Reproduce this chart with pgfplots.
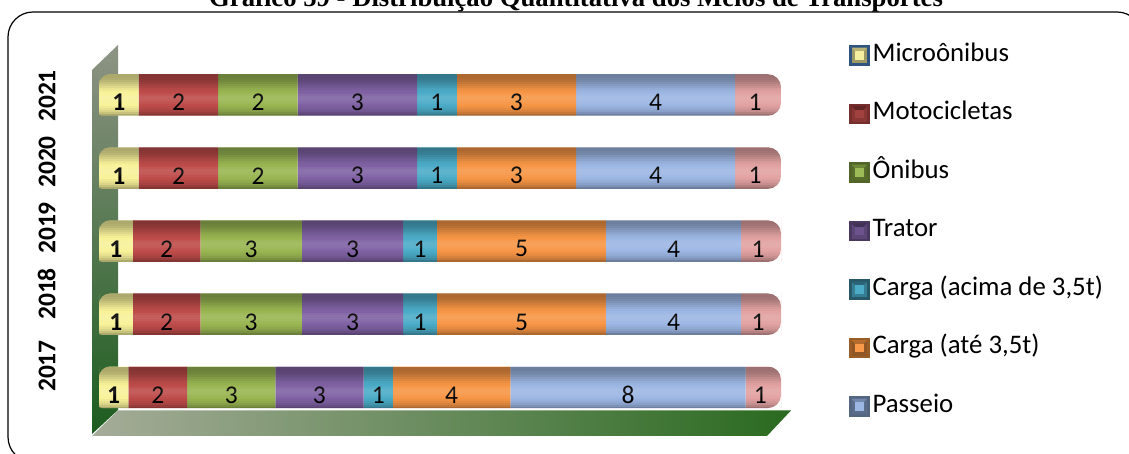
\documentclass[border=0pt]{standalone}
\usepackage{pgfplots}
\pgfplotsset{compat=1.18}
\usepackage{fontspec}
\setmainfont{Carlito}
\newfontfamily\titlefont{Liberation Serif}
\definecolor{yD}{HTML}{B9B476}\definecolor{yB}{HTML}{F8F29A}\definecolor{yL}{HTML}{F4F0A0}
\definecolor{rD}{HTML}{8A3634}\definecolor{rB}{HTML}{BE4C4A}\definecolor{rL}{HTML}{C4524F}
\definecolor{gD}{HTML}{6E8836}\definecolor{gB}{HTML}{99B652}\definecolor{gL}{HTML}{9DBB56}
\definecolor{pD}{HTML}{5C4678}\definecolor{pB}{HTML}{8062A4}\definecolor{pL}{HTML}{8466A8}
\definecolor{tD}{HTML}{367E94}\definecolor{tB}{HTML}{4CACC8}\definecolor{tL}{HTML}{4FB2CE}
\definecolor{oD}{HTML}{B46D2F}\definecolor{oB}{HTML}{F79646}\definecolor{oL}{HTML}{F99A4B}
\definecolor{bD}{HTML}{7088AC}\definecolor{bB}{HTML}{9DB7E4}\definecolor{bL}{HTML}{A2BCE8}
\definecolor{kD}{HTML}{A87070}\definecolor{kB}{HTML}{E2A2A2}\definecolor{kL}{HTML}{E8AEAE}
\definecolor{wallA}{HTML}{8E9484}\definecolor{wallB}{HTML}{667A58}\definecolor{wallC}{HTML}{1C5C1E}
\definecolor{floorA}{HTML}{A5AC98}\definecolor{floorB}{HTML}{7E8A68}\definecolor{floorC}{HTML}{2A6A20}
\definecolor{navy}{HTML}{2F5480}
% bevelled legend key: edge, top bevel, side bevel, centre
\pgfplotsset{legkey/.style n args={4}{legend image code/.code={%
  \fill[#1] (0pt,-10.3pt) rectangle (20.6pt,10.3pt);
  \fill[#3] (2.5pt,-7.8pt) rectangle (18.1pt,7.8pt);
  \fill[#2] (2.5pt,7.8pt) -- (18.1pt,7.8pt) -- (10.3pt,0pt) -- cycle;
  \fill[#4] (6pt,-4.3pt) -- (14.6pt,-4.3pt) -- (14.6pt,4.3pt) -- (6pt,4.3pt) -- cycle;
}}}
\begin{document}
\begin{tikzpicture}[x=1pt,y=1pt]
\useasboundingbox (0,0) rectangle (1129,454);
\clip (0,0) rectangle (1129,454);
\node[anchor=base,font=\titlefont\bfseries\fontsize{26.7}{28}\selectfont,inner sep=0] at (576,447.5) {Gráfico 59 - Distribuição Quantitativa dos Meios de Transportes};
\draw[line width=1.2pt,rounded corners=25pt] (8,442) rectangle (1142,-8);
% wall and floor
\shade[top color=wallA,middle color=wallB,bottom color=wallC] (92,20) -- (118,44) -- (118,409) -- (92,384) -- cycle;
\shade[left color=floorA,middle color=floorB,right color=floorC] (92,18) -- (118,43.5) -- (791,43.5) -- (767,18) -- cycle;
\begin{scope}
\path[clip]
  (0,0) rectangle (99,454)
  (781,0) rectangle (1129,454)
  \foreach \c in {66.7,139.78,212.86,285.94,359.02} {
    [sharp corners] (440,{\c-20.75}) [rounded corners=3pt] -- (99,{\c-20.75}) [rounded corners=11pt] -- (99,{\c+20.75}) [rounded corners=13pt] -- (781,{\c+20.75}) -- (781,{\c-20.75}) -- cycle
  };
\begin{axis}[
  at={(99pt,30.16pt)},anchor=south west,
  scale only axis,width=682pt,height=365.4pt,
  xbar stacked,bar width=41.5pt,
  xmin=0,xmax=100.89,ymin=-0.5,ymax=4.5,
  axis line style={draw=none},major tick length=0pt,
  xtick=\empty,
  ytick={0.291,1.277,2.18,3.083,3.986},
  yticklabels={2017,2018,2019,2020,2021},
  y tick label style={rotate=90,anchor=south,yshift=40pt,font=\bfseries\fontsize{25.5}{25}\selectfont},
  clip=false,
  point meta=explicit symbolic,
  nodes near coords,
  every node near coord/.append style={anchor=center,yshift=-7.7pt,inner sep=0pt,text=black,font=\fontsize{25.5}{25}\selectfont},
  legend cell align=left,
  legend style={at={(1.0997,1.041)},anchor=north west,draw=none,fill=none,inner sep=0pt,outer sep=0pt,
    font=\fontsize{26.8}{26}\selectfont,row sep=34.5pt,
    nodes={inner sep=0pt,text height=18pt,text depth=6pt,anchor=west},
    /tikz/every odd column/.append style={column sep=3pt}},
]
\addplot[draw=none,fill=yB,every node near coord/.append style={font=\bfseries\fontsize{25.5}{25}\selectfont},legkey={navy}{yD}{yD!85!black}{yL}] coordinates {(4.35,0) [1] (5,1) [1] (5,2) [1] (5.88,3) [1] (5.88,4) [1]};
\addplot[draw=none,fill=rB,legkey={rD!85!black}{rD!70!black}{rD}{rB!85!black}] coordinates {(8.70,0) [2] (10,1) [2] (10,2) [2] (11.76,3) [2] (11.76,4) [2]};
\addplot[draw=none,fill=gB,legkey={gD!75!black}{gD}{gD!80!black}{gL}] coordinates {(13.04,0) [3] (15,1) [3] (15,2) [3] (11.76,3) [2] (11.76,4) [2]};
\addplot[draw=none,fill=pB,legkey={pD!80!black}{pD!70!black}{pD}{pB!85!black}] coordinates {(13.04,0) [3] (15,1) [3] (15,2) [3] (17.65,3) [3] (17.65,4) [3]};
\addplot[draw=none,fill=tB,legkey={tD!70!black}{tD!80!black}{tD}{tB}] coordinates {(4.35,0) [1] (5,1) [1] (5,2) [1] (5.88,3) [1] (5.88,4) [1]};
\addplot[draw=none,fill=oB,legkey={oD!85!black}{oD}{oD!80!black}{oL}] coordinates {(17.39,0) [4] (25,1) [5] (25,2) [5] (17.65,3) [3] (17.65,4) [3]};
\addplot[draw=none,fill=bB,legkey={bD!75!black}{bD}{bD!80!black}{bB}] coordinates {(34.78,0) [8] (20,1) [4] (20,2) [4] (23.53,3) [4] (23.53,4) [4]};
\addplot[draw=none,fill=kB,every node near coord/.append style={xshift=-3pt},forget plot] coordinates {(5.24,0) [1] (5.89,1) [1] (5.89,2) [1] (6.77,3) [1] (6.77,4) [1]};
\legend{Microônibus,Motocicletas,Ônibus,Trator,{Carga (acima de 3,5t)},{Carga (até 3,5t)},Passeio}
\end{axis}
% cylinder relief over the bars
\foreach \t in {87,161,234,307,380}
  \foreach \o [count=\i from 0] in {.30,.30,.28,.25,.20,.15,.10,.05,.02,0,-.06,-.10,-.10,-.08,-.04,0,.03,.07,.12,.2,.3} {
    \pgfmathsetmacro\yy{\t-2*\i}
    \pgfmathsetmacro\op{abs(\o)}
    \pgfmathparse{\o<0?1:0}
    \ifnum\pgfmathresult>0
      \fill[white,fill opacity=\op] (99,\yy) rectangle (781,\yy-2);
    \else
      \fill[black,fill opacity=\op] (99,\yy) rectangle (781,\yy-2);
    \fi
  }
\end{scope}
\end{tikzpicture}
\end{document}
